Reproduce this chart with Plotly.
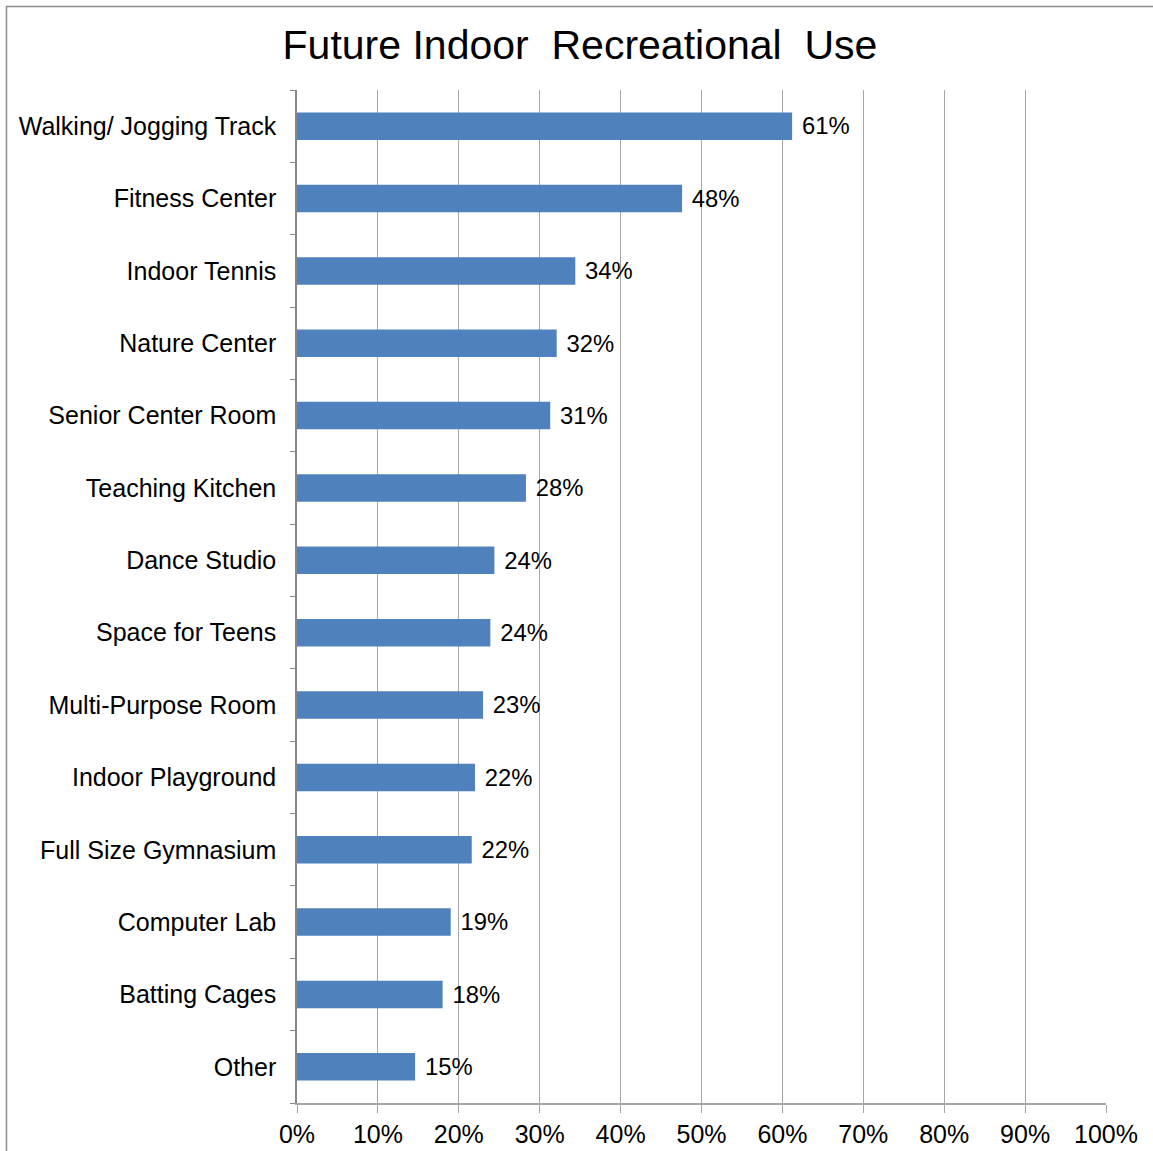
import plotly.graph_objects as go

categories = ["Walking/ Jogging Track", "Fitness Center", "Indoor Tennis", "Nature Center",
              "Senior Center Room", "Teaching Kitchen", "Dance Studio", "Space for Teens",
              "Multi-Purpose Room", "Indoor Playground", "Full Size Gymnasium", "Computer Lab",
              "Batting Cages", "Other"]
values = [61.2, 47.6, 34.4, 32.1, 31.3, 28.3, 24.4, 23.9, 23.0, 22.0, 21.6, 19.0, 18.0, 14.6]
value_labels = ["61%", "48%", "34%", "32%", "31%", "28%", "24%", "24%", "23%", "22%", "22%", "19%", "18%", "15%"]
x_ticks = [0, 10, 20, 30, 40, 50, 60, 70, 80, 90, 100]
x_tick_labels = ["0%", "10%", "20%", "30%", "40%", "50%", "60%", "70%", "80%", "90%", "100%"]

W, H = 1153, 1151
ML, MR, MT, MB = 297, 47, 90, 48
FONT = "Liberation Sans, Arial, sans-serif"

fig = go.Figure(go.Bar(
    y=categories, x=values, orientation="h",
    marker=dict(color="#4F81BD", line=dict(width=0)),
    text=["\u2009\u200a" + t for t in value_labels], textposition="outside",
    textfont=dict(family=FONT, size=26, color="#000000"),
    cliponaxis=False, hoverinfo="skip",
))

pw, ph = W - ML - MR, H - MT - MB
def px_x(p):
    return (p - ML) / pw
def px_y(p):
    return (H - MB - p) / ph

fig.update_layout(
    width=W, height=H,
    margin=dict(l=ML, r=MR, t=MT, b=MB, pad=0, autoexpand=False),
    paper_bgcolor="white", plot_bgcolor="white",
    showlegend=False, bargap=0.62,
    title=dict(text="Future Indoor  Recreational  Use", x=0.503, xanchor="center",
               y=1 - 45 / H, yanchor="middle", yref="container",
               font=dict(family=FONT, size=41, color="#000000")),
    xaxis=dict(range=[0, 100], tickvals=x_ticks, ticktext=x_tick_labels,
               showgrid=True, gridcolor="#A6A6A6", gridwidth=1,
               showline=True, linecolor="#A6A6A6", linewidth=1.5,
               ticks="outside", ticklen=8, tickcolor="#A6A6A6", tickwidth=1,
               ticklabelstandoff=0, automargin=False,
               tickfont=dict(family=FONT, size=25, color="#000000"),
               zeroline=False, fixedrange=True),
    yaxis=dict(categoryorder="array", categoryarray=categories[::-1],
               showline=True, linecolor="#868686", linewidth=1.5,
               ticks="outside", ticklen=5, tickcolor="#868686", tickson="boundaries",
               ticklabelstandoff=14, automargin=False,
               tickfont=dict(family=FONT, size=25, color="#000000"),
               showgrid=False, fixedrange=True),
    shapes=[
        dict(type="line", xref="paper", yref="paper",
             x0=px_x(6.5), x1=px_x(6.5), y0=px_y(6), y1=px_y(H), line=dict(color="#8C8C8C", width=1.5)),
        dict(type="line", xref="paper", yref="paper",
             x0=px_x(6), x1=px_x(W), y0=px_y(6.5), y1=px_y(6.5), line=dict(color="#8C8C8C", width=1.5)),
    ],
)

fig.write_html("out.html", config={"displayModeBar": False},
               post_script="document.body.style.margin='0';document.body.style.overflow='hidden';")
